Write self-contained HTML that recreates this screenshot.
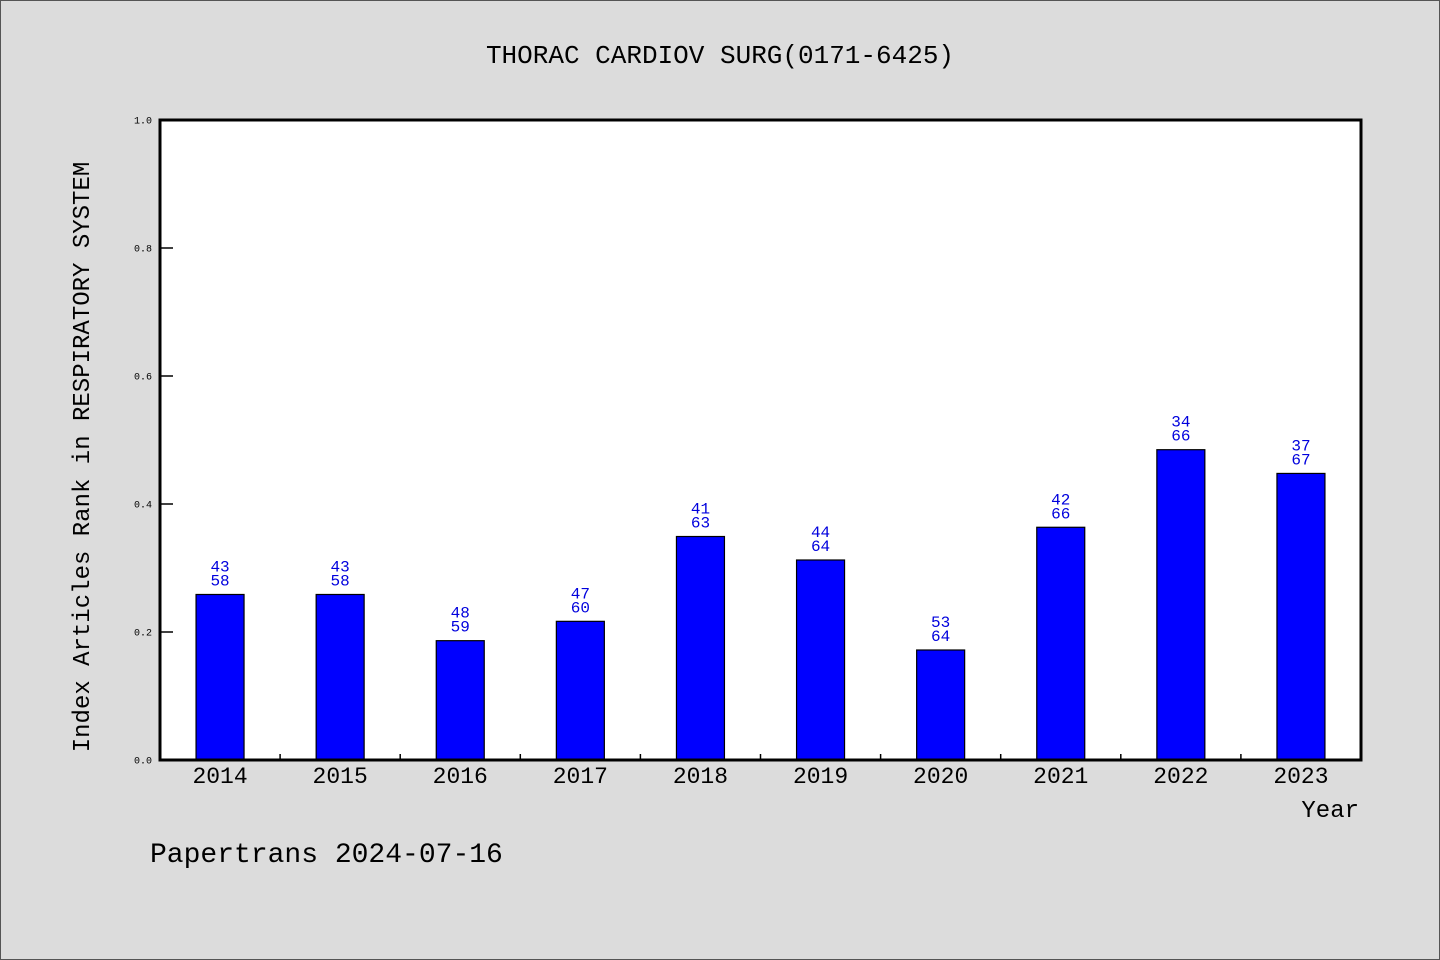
<!DOCTYPE html>
<html><head><meta charset="utf-8"><style>
html,body{margin:0;padding:0;background:#dcdcdc;}
svg{display:block;font-family:"Liberation Mono","DejaVu Sans Mono",monospace;}
</style></head><body>
<svg id="chart" width="1440" height="960" viewBox="0 0 1440 960">
<rect x="0.5" y="0.5" width="1439" height="959" fill="#dcdcdc" stroke="#555"/>
<text x="720" y="63" text-anchor="middle" font-size="26" fill="#000">THORAC CARDIOV SURG(0171-6425)</text>
<rect x="160" y="120" width="1201" height="640" fill="#fff"/>
<g id="marks"></g>
<rect x="160" y="120" width="1201" height="640" fill="none" stroke="#000" stroke-width="3"/>
<text transform="translate(89,457) rotate(-90)" text-anchor="middle" font-size="24" fill="#000">Index Articles Rank in RESPIRATORY SYSTEM</text>
<text x="1359" y="817" text-anchor="end" font-size="24" fill="#000">Year</text>
<text x="150" y="862" font-size="28" fill="#000">Papertrans 2024-07-16</text>
</svg>
<script>
const years = ["2014","2015","2016","2017","2018","2019","2020","2021","2022","2023"];
const ranks = [43,43,48,47,41,44,53,42,34,37];
const totals = [58,58,59,60,63,64,64,66,66,67];
const yTicks = ["0.0","0.2","0.4","0.6","0.8","1.0"];
const NS="http://www.w3.org/2000/svg";
const x0=160,x1=1361,y0=760,y1=120;
const band=(x1-x0)/years.length;
const xc=i=>x0+band*(i+0.5);
const yv=v=>y0-(y0-y1)*v;
const g=document.getElementById('marks');
function mk(t,a){const e=document.createElementNS(NS,t);for(const k in a)e.setAttribute(k,a[k]);g.appendChild(e);return e;}
yTicks.forEach(t=>{const v=parseFloat(t);
 const l=mk('line',{x1:x0,x2:x0+13,y1:yv(v),y2:yv(v),stroke:'#000','stroke-width':1.5});
 
 
 const tx=mk('text',{x:x0-8,y:yv(v)+3.5,'text-anchor':'end','font-size':10,fill:'#000'});
 tx.textContent=t;
 
 
});
for(let i=1;i<years.length;i++){
 const l=mk('line',{x1:x0+band*i,x2:x0+band*i,y1:y0,y2:y0-6,stroke:'#000','stroke-width':1.5});
 
 
}
years.forEach((yr,i)=>{
 const v=(totals[i]-ranks[i])/totals[i];
 const bw=48;
 const r=mk('rect',{x:xc(i)-bw/2,y:yv(v),width:bw,height:y0-yv(v),fill:'#0000ff',stroke:'#000','stroke-width':1.2});
 
 
 const a=mk('text',{x:xc(i),y:yv(v)-23,'text-anchor':'middle','font-size':16,fill:'#0000dd'});
 a.textContent=ranks[i];
 
 
 const b=mk('text',{x:xc(i),y:yv(v)-9,'text-anchor':'middle','font-size':16,fill:'#0000dd'});
 b.textContent=totals[i];
 
 
 const t=mk('text',{x:xc(i),y:783,'text-anchor':'middle','font-size':23,fill:'#000'});
 t.textContent=yr;
 
 
});
</script>
</body></html>
